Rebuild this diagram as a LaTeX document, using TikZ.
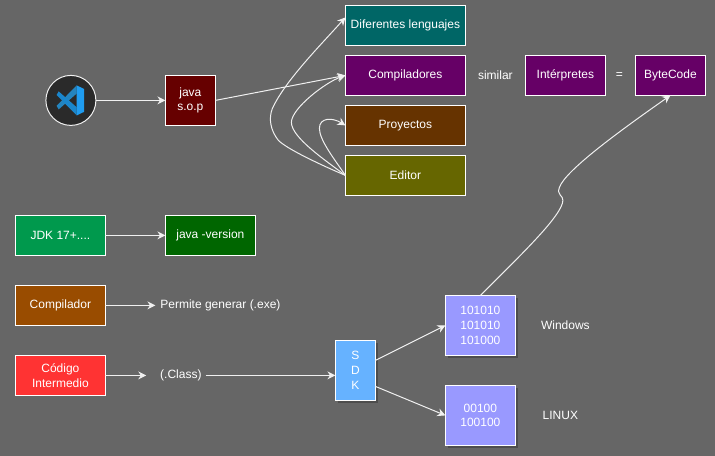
\documentclass[tikz,border=0pt]{standalone}
\usepackage{fontspec}
\setmainfont{Liberation Sans}
\usepackage{xcolor}
\usetikzlibrary{arrows.meta, positioning, shadows}
\definecolor{boardgray}{HTML}{666666}
\definecolor{shadowgray}{HTML}{4D4D4D}
\definecolor{edgewhite}{HTML}{F0F0F0}
\definecolor{tealbox}{HTML}{006666}
\definecolor{purplebox}{HTML}{660066}
\definecolor{brownbox}{HTML}{663300}
\definecolor{olivebox}{HTML}{666600}
\definecolor{maroonbox}{HTML}{660000}
\definecolor{greenbox}{HTML}{00994D}
\definecolor{darkgreenbox}{HTML}{006600}
\definecolor{orangebox}{HTML}{994C00}
\definecolor{redbox}{HTML}{FF3333}
\definecolor{bluebox}{HTML}{66B2FF}
\definecolor{lilacbox}{HTML}{9999FF}
\definecolor{codedark}{HTML}{2A2A2A}
\definecolor{codeblue}{HTML}{1F9CF0}
\definecolor{codemid}{HTML}{1A86CC}
\definecolor{codeshade}{HTML}{2484BE}

\begin{document}
\begin{tikzpicture}[
    x=0.75pt, y=-0.75pt,
    node distance=7.5pt and 45pt,
    every node/.style={font=\fontsize{9}{11}\selectfont, text=white, outer sep=0pt},
    block/.style={draw=white, line width=0.75pt, minimum width=90pt, minimum height=30pt, inner sep=1pt, align=center},
    wide/.style={block, minimum width=67.5pt},
    mid/.style={block, minimum width=60pt},
    small/.style={block, minimum width=52.5pt},
    binary/.style={block, fill=lilacbox, minimum width=52.5pt, minimum height=45pt, drop shadow={shadow xshift=2pt, shadow yshift=-2pt, opacity=1, fill=shadowgray}},
    arrow/.style={-{Stealth[length=6pt, width=6pt]}, line width=0.75pt, draw=edgewhite},
    lbl/.style={inner sep=0pt}
]
    \fill[boardgray] (-0.4,-0.4) rectangle (714.6,455.6);

    % logo
    \node[circle, draw=edgewhite, line width=0.75pt, fill=codedark, minimum size=37.5pt, inner sep=0pt] (vscode) at (70.5,100) {};
    \begin{scope}[shift={(55,85)}, x=0.225pt, y=-0.225pt]
        \fill[codeshade] (4,68) -- (11,80) -- (71,27) -- (71,0) -- cycle;
        \fill[codemid] (4,32) -- (11,20) -- (71,73) -- (71,100) -- cycle;
        \fill[codeblue] (71,0) -- (96,12) -- (96,88) -- (71,100) -- cycle;
    \end{scope}

    \node[block, fill=maroonbox, minimum width=37.5pt, minimum height=37.5pt] (javasop) at (190,100) {java\\s.o.p};

    \node[block, fill=tealbox] (lenguajes) at (405,25) {Diferentes lenguajes};
    \node[block, fill=purplebox, below=of lenguajes] (compiladores) {Compiladores};
    \node[block, fill=brownbox, below=of compiladores] (proyectos) {Proyectos};
    \node[block, fill=olivebox, below=of proyectos] (editor) {Editor};

    \node[mid, fill=purplebox, right=45pt of compiladores] (interpretes) {Intérpretes};
    \node[small, fill=purplebox, right=22.5pt of interpretes] (bytecode) {ByteCode};
    \node[lbl] (similar) at (495,75) {similar};
    \node[lbl] (igual) at (619,75) {=};

    \node[wide, fill=greenbox] (jdk) at (60,235) {JDK 17+....};
    \node[wide, fill=darkgreenbox, right=45pt of jdk] (version) {java -version};
    \node[wide, fill=orangebox, below=22.5pt of jdk] (compilador) {Compilador};
    \node[wide, fill=redbox, below=22.5pt of compilador] (codigo) {Código\\Intermedio};

    \node[lbl, anchor=west] (permite) at (160,305) {Permite generar (.exe)};
    \node[lbl] (clase) at (180.5,375) {(.Class)};

    \node[block, fill=bluebox, minimum width=30pt, minimum height=45pt, drop shadow={shadow xshift=2pt, shadow yshift=-2pt, opacity=1, fill=shadowgray}] (sdk) at (355,370) {S\\D\\K};
    \node[binary] (windowsbin) at (480,325) {101010\\101010\\101000};
    \node[binary, below=22.5pt of windowsbin] (linuxbin) {00100\\100100};
    \node[lbl] (windows) at (565,325) {Windows};
    \node[lbl] (linux) at (560,415) {LINUX};

    \draw[arrow] (vscode) -- (javasop);
    \draw[arrow] (javasop.east) -- (compiladores.west);
    \draw[arrow] (jdk) -- (version);
    \draw[arrow] (compilador) -- ([xshift=-3.75pt]permite.west);
    \draw[arrow] (codigo) -- ([xshift=-10.5pt]clase.west);
    \draw[arrow] ([xshift=3pt]clase.east) -- ([yshift=-3.75pt]sdk.west);
    \draw[arrow] ([yshift=7.5pt]sdk.east) -- (windowsbin.west);
    \draw[arrow] ([yshift=-12pt]sdk.east) -- (linuxbin.west);

    \draw[arrow] (editor.west) .. controls (310,160) and (285,147) .. (278,140) .. controls (270,130) and (268,118) .. (272,108) .. controls (285,80) and (320,45) .. ([yshift=6pt]lenguajes.west);
    \draw[arrow] (editor.west) .. controls (325,160) and (291,137) .. (291,122) .. controls (291,108) and (325,82) .. (compiladores.west);
    \draw[arrow] (editor.west) .. controls (335,160) and (319,140) .. (319,128) .. controls (319,117) and (332,117) .. (proyectos.west);
    \draw[arrow] (windowsbin.north) .. controls (520,255) and (562,215) .. (562.5,200) .. controls (563,195) and (556,195) .. (559,187) .. controls (565,170) and (620,130) .. (bytecode.south);
\end{tikzpicture}
\end{document}
